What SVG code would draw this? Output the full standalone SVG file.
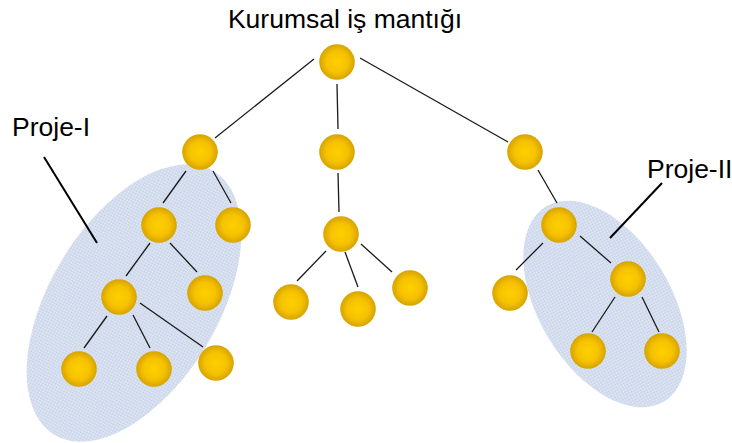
<svg xmlns="http://www.w3.org/2000/svg" width="732" height="443" viewBox="0 0 732 443">
  <defs>
    <pattern id="stipple" width="2" height="2" patternUnits="userSpaceOnUse">
      <rect width="2" height="2" fill="#c3d0e8"/>
      <rect width="1" height="1" fill="#e6ebf5"/>
      <rect x="1" y="1" width="1" height="1" fill="#e6ebf5"/>
    </pattern>
    <radialGradient id="ball" cx="50%" cy="50%" r="50%">
      <stop offset="0%" stop-color="#ffcf00"/>
      <stop offset="60%" stop-color="#f6c200"/>
      <stop offset="100%" stop-color="#d6a300"/>
    </radialGradient>
  </defs>
  <style>
    .label { font-family: "Liberation Sans", Arial, sans-serif; font-size: 26.5px; fill: #000; }
    .node { fill: url(#ball); }
    .edge { stroke: #1a1a1a; stroke-width: 1.3; fill: none; }
    .pointer { stroke: #000; stroke-width: 2; fill: none; }
    .group { fill: url(#stipple); }
  </style>

  <rect width="732" height="443" fill="#ffffff"/>

  <!-- project regions -->
  <g id="region-proje-1">
    <ellipse class="group" cx="134" cy="303" rx="154" ry="84" transform="rotate(-58.8 134 303)"/>
  </g>
  <g id="region-proje-2">
    <ellipse class="group" cx="605" cy="304" rx="114" ry="66" transform="rotate(58.8 605 304)"/>
  </g>

  <!-- labels -->
  <g id="label-root">
    <text class="label" x="345" y="28" text-anchor="middle">Kurumsal iş mantığı</text>
  </g>
  <g id="label-proje-1">
    <text class="label" x="12" y="136">Proje-I</text>
  </g>
  <g id="label-proje-2">
    <text class="label" x="647" y="178">Proje-II</text>
  </g>

  <!-- connectors -->
  <g id="connectors">
    <line class="edge" x1="314" y1="59" x2="215" y2="138"/>
    <line class="edge" x1="337" y1="84" x2="338" y2="129"/>
    <line class="edge" x1="360" y1="58" x2="508" y2="142"/>
    <line class="edge" x1="338" y1="173" x2="339" y2="212"/>
    <line class="edge" x1="326" y1="251" x2="297" y2="281"/>
    <line class="edge" x1="345" y1="252" x2="358" y2="287"/>
    <line class="edge" x1="361" y1="244" x2="392" y2="272"/>
    <line class="edge" x1="186" y1="171" x2="163" y2="203"/>
    <line class="edge" x1="213" y1="171" x2="231" y2="203"/>
    <line class="edge" x1="150" y1="243" x2="126" y2="276"/>
    <line class="edge" x1="170" y1="243" x2="197" y2="272"/>
    <line class="edge" x1="107" y1="316" x2="84" y2="348"/>
    <line class="edge" x1="133" y1="315" x2="150" y2="348"/>
    <line class="edge" x1="140" y1="303" x2="203" y2="347"/>
    <line class="edge" x1="538" y1="170" x2="557" y2="203"/>
    <line class="edge" x1="543" y1="243" x2="516" y2="270"/>
    <line class="edge" x1="580" y1="236" x2="611" y2="263"/>
    <line class="edge" x1="615" y1="297" x2="592" y2="332"/>
    <line class="edge" x1="642" y1="297" x2="659" y2="332"/>
    <line class="pointer" x1="44" y1="157" x2="97" y2="243"/>
    <line class="pointer" x1="662" y1="183" x2="610" y2="238"/>
  </g>

  <!-- nodes -->
  <g id="n-root"><circle class="node" cx="337" cy="62" r="17.8"/></g>
  <g id="n-a"><circle class="node" cx="200" cy="152" r="17.8"/></g>
  <g id="n-b"><circle class="node" cx="337" cy="152" r="17.8"/></g>
  <g id="n-c"><circle class="node" cx="525" cy="152" r="17.8"/></g>
  <g id="n-a1"><circle class="node" cx="159" cy="225" r="17.8"/></g>
  <g id="n-a2"><circle class="node" cx="233" cy="225" r="17.8"/></g>
  <g id="n-a11"><circle class="node" cx="119" cy="297" r="17.8"/></g>
  <g id="n-a12"><circle class="node" cx="205" cy="293" r="17.8"/></g>
  <g id="n-a111"><circle class="node" cx="79" cy="369" r="17.8"/></g>
  <g id="n-a112"><circle class="node" cx="154" cy="369" r="17.8"/></g>
  <g id="n-a113"><circle class="node" cx="216" cy="363" r="17.8"/></g>
  <g id="n-b1"><circle class="node" cx="341" cy="234" r="17.8"/></g>
  <g id="n-b11"><circle class="node" cx="291" cy="302" r="17.8"/></g>
  <g id="n-b12"><circle class="node" cx="358" cy="309" r="17.8"/></g>
  <g id="n-b13"><circle class="node" cx="410" cy="288" r="17.8"/></g>
  <g id="n-c1"><circle class="node" cx="559" cy="225" r="17.8"/></g>
  <g id="n-c11"><circle class="node" cx="510" cy="293" r="17.8"/></g>
  <g id="n-c12"><circle class="node" cx="628" cy="279" r="17.8"/></g>
  <g id="n-c121"><circle class="node" cx="588" cy="351" r="17.8"/></g>
  <g id="n-c122"><circle class="node" cx="662" cy="351" r="17.8"/></g>
</svg>
